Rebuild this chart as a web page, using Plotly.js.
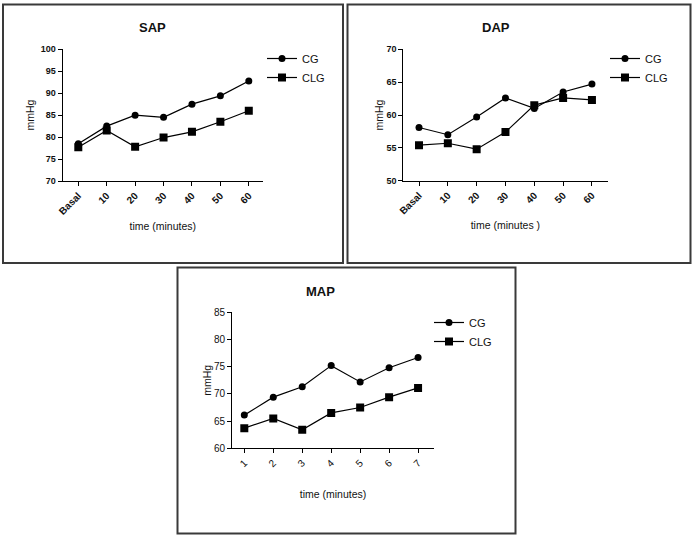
<!DOCTYPE html>
<html>
<head>
<meta charset="utf-8">
<script src="https://cdn.plot.ly/plotly-3.0.1.min.js"></script>
<style>html,body{margin:0;padding:0;background:#fff;}#chart{width:695px;height:537px;}</style>
</head>
<body>
<div id="chart"></div>
<script>
// ---- data ----
const sapCategories = ["Basal", "10", "20", "30", "40", "50", "60"];
const sapCG  = [78.5, 82.5, 85.0, 84.5, 87.5, 89.4, 92.8];
const sapCLG = [77.7, 81.5, 77.8, 79.9, 81.2, 83.5, 86.0];

const dapCategories = ["Basal", "10", "20", "30", "40", "50", "60"];
const dapCG  = [58.1, 57.0, 59.7, 62.6, 61.0, 63.5, 64.7];
const dapCLG = [55.4, 55.7, 54.8, 57.4, 61.5, 62.6, 62.3];

const mapCategories = ["1", "2", "3", "4", "5", "6", "7"];
const mapCG  = [66.1, 69.4, 71.3, 75.2, 72.2, 74.8, 76.7];
const mapCLG = [63.7, 65.5, 63.4, 66.5, 67.5, 69.4, 71.1];

const seriesNames = ["CG", "CLG"];
const panelTitles = ["SAP", "DAP", "MAP"];
const yTitle = "mmHg";
const xTitles = ["time (minutes)", "time (minutes )", "time (minutes)"];

// ---- layout helpers (pixel -> paper) ----
const W = 695, H = 537;
const px = x => x / W;
const py = y => 1 - y / H;
const FONT = "Liberation Sans, Arial, Helvetica, sans-serif";

function mkTraces(cats, cg, clg, xa, ya, leg) {
  return [
    {x: cats, y: cg, name: seriesNames[0], xaxis: xa, yaxis: ya, legend: leg,
     type: "scatter", mode: "lines+markers",
     line: {color: "#000", width: 1.2},
     marker: {symbol: "circle", size: 7, color: "#000"}},
    {x: cats, y: clg, name: seriesNames[1], xaxis: xa, yaxis: ya, legend: leg,
     type: "scatter", mode: "lines+markers",
     line: {color: "#000", width: 1.2},
     marker: {symbol: "square", size: 8, color: "#000"}}
  ];
}

const data = [
  ...mkTraces(sapCategories, sapCG, sapCLG, "x", "y", "legend"),
  ...mkTraces(dapCategories, dapCG, dapCLG, "x2", "y2", "legend2"),
  ...mkTraces(mapCategories, mapCG, mapCLG, "x3", "y3", "legend3")
];

function xAx(d0, d1, r0, r1, anchor, title, bold, fs, standoff) {
  return {
    domain: [px(d0), px(d1)], anchor: anchor, type: "category",
    range: [r0, r1], showline: true, linecolor: "#000", linewidth: 1,
    ticks: "outside", ticklen: 4, tickcolor: "#000", tickwidth: 1,
    tickangle: -45, showgrid: false, zeroline: false,
    tickfont: {family: FONT, size: fs, color: "#111", weight: bold ? "bold" : "normal"},
    title: {text: title, font: {family: FONT, size: 10.5, color: "#111"}, standoff: standoff},
    fixedrange: true
  };
}
function yAx(d0, d1, r0, r1, anchor, bold, fs, standoff) {
  return {
    domain: [py(d1), py(d0)], anchor: anchor, range: [r0, r1],
    tick0: r0, dtick: 5, showline: true, linecolor: "#000", linewidth: 1,
    ticks: "outside", ticklen: 4, tickcolor: "#000", tickwidth: 1,
    showgrid: false, zeroline: false,
    tickfont: {family: FONT, size: fs, color: "#111", weight: bold ? "bold" : "normal"},
    title: {text: yTitle, font: {family: FONT, size: 10.5, color: "#111"}, standoff: standoff},
    fixedrange: true
  };
}
function leg(x, y) {
  return {x: px(x), y: py(y), xanchor: "left", yanchor: "top",
          bgcolor: "rgba(0,0,0,0)", font: {family: FONT, size: 11, color: "#111"},
          tracegroupgap: 0, itemclick: false};
}
function titleAnn(text, x, y) {
  return {text: "<b>" + text + "</b>", x: px(x), y: py(y), xref: "paper", yref: "paper",
          showarrow: false, xanchor: "center", yanchor: "middle",
          font: {family: FONT, size: 13, color: "#111"}};
}
function box(x0, y0, x1, y1) {
  return {type: "rect", xref: "paper", yref: "paper",
          x0: px(x0), x1: px(x1), y0: py(y1), y1: py(y0),
          line: {color: "#3a3a3a", width: 2}, fillcolor: "rgba(0,0,0,0)"};
}

const layout = {
  width: W, height: H,
  margin: {l: 0, r: 0, t: 0, b: 0},
  paper_bgcolor: "#fff", plot_bgcolor: "#fff",
  font: {family: FONT, color: "#111"},
  showlegend: true,
  xaxis:  xAx(62.5, 263, -0.556, 6.5, "y", xTitles[0], true, 10, 6),
  yaxis:  yAx(49.3, 181, 70, 100, "x", true, 9, 3),
  xaxis2: xAx(403.3, 607.5, -0.545, 6.54, "y2", xTitles[1], true, 10, 6),
  yaxis2: yAx(49.3, 180.7, 50, 70, "x2", true, 9, 0),
  xaxis3: xAx(232, 434, -0.425, 6.55, "y3", xTitles[2], false, 10, 22),
  yaxis3: yAx(312.3, 448.3, 60, 85, "x3", false, 10, 0),
  legend:  leg(262, 44),
  legend2: leg(605, 44),
  legend3: leg(429, 308),
  annotations: [
    titleAnn(panelTitles[0], 152, 28),
    titleAnn(panelTitles[1], 496, 28),
    titleAnn(panelTitles[2], 320, 291)
  ],
  shapes: [
    box(3, 4.5, 343, 263),
    box(347.5, 4.5, 690.5, 263),
    box(177.5, 267.5, 515.5, 533.5)
  ]
};

Plotly.newPlot("chart", data, layout, {displayModeBar: false, staticPlot: true});
</script>
</body>
</html>
